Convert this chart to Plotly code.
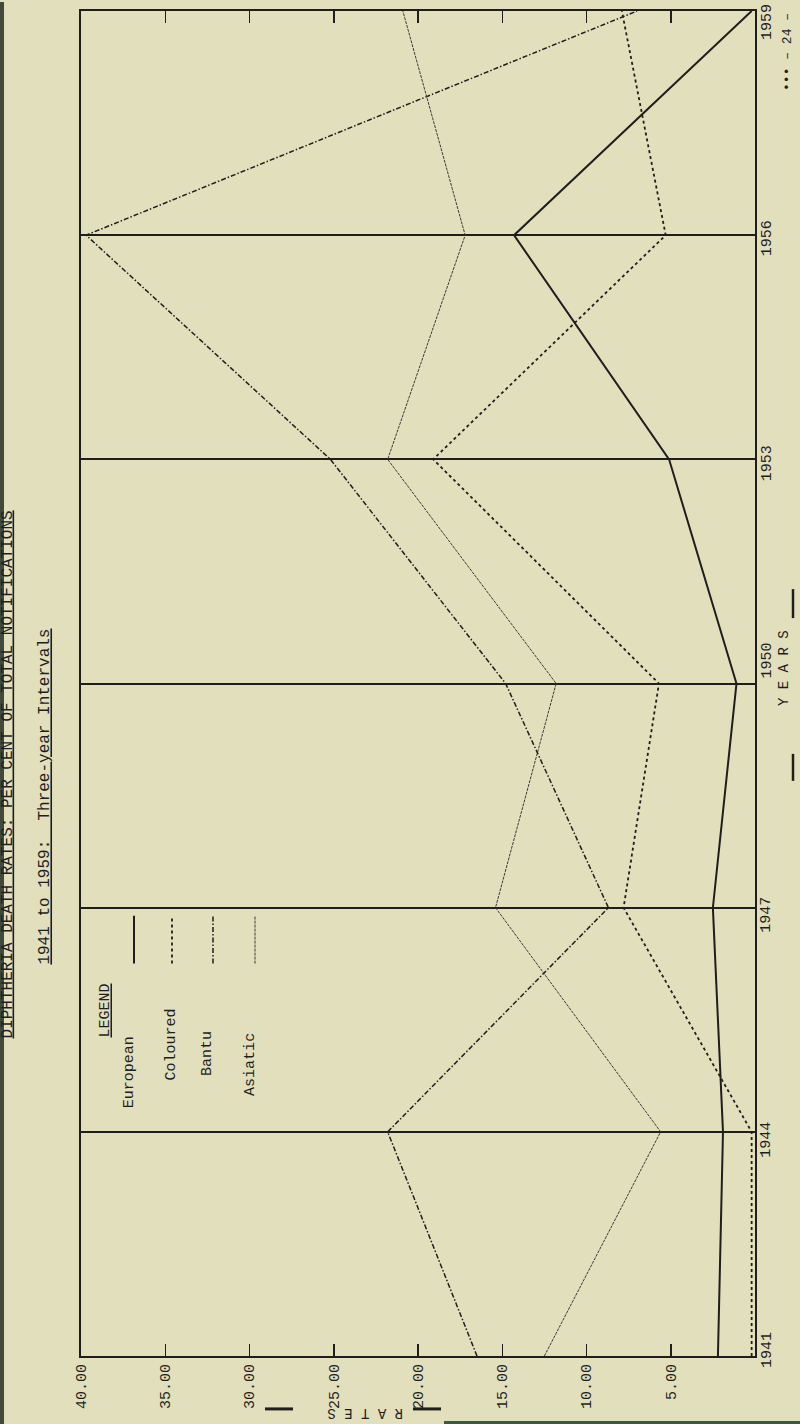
import plotly.graph_objects as go

# ---------------- data ----------------
years = [1941, 1944, 1947, 1950, 1953, 1956, 1959]
european = [2.2, 1.9, 2.5, 1.1, 5.1, 14.3, 0.2]
coloured = [0.2, 0.2, 7.8, 5.7, 19.1, 5.3, 7.9]
bantu = [16.5, 21.8, 8.7, 14.8, 25.2, 39.7, 7.0]
asiatic = [12.5, 5.6, 15.4, 11.8, 21.8, 17.2, 20.9]

rate_ticks = [40, 35, 30, 25, 20, 15, 10, 5]
rate_labels = ["40.00", "35.00", "30.00", "25.00", "20.00", "15.00", "10.00", "5.00"]
year_labels = ["1941", "1944", "1947", "1950", "1953", "1956", "1959"]
series_names = ["European", "Coloured", "Bantu", "Asiatic"]

# ---------------- style ----------------
W, H = 800, 1424
L, R, T, B = 81, 755, 9, 1356          # plot area in pixels
PAPER = "#e2dfbd"
INK = "#1e1e1e"
MONO = "Liberation Mono, Courier New, monospace"

def px(x):
    return (x - L) / (R - L)

def py(y):
    return (B - y) / (B - T)

styles = {
    "European": dict(color=INK, width=2.0, dash="solid"),
    "Coloured": dict(color=INK, width=1.8, dash="dot"),
    "Bantu": dict(color=INK, width=1.5, dash="5px,2px,1.5px,2px"),
    "Asiatic": dict(color="#3a3a3a", width=1.0, dash="3px,1px"),
}
values = {"European": european, "Coloured": coloured, "Bantu": bantu, "Asiatic": asiatic}

fig = go.Figure()
for name in series_names:
    fig.add_trace(go.Scatter(x=values[name], y=years, mode="lines", name=name,
                             line=styles[name], showlegend=False, hoverinfo="skip"))

annotations = []
shapes = []

# year labels (rotated) on the right
year_shift = {1941: 6, 1944: -8, 1947: -7, 1950: 23, 1953: -4, 1956: -3, 1959: -11}
for yr, lab in zip(years, year_labels):
    annotations.append(dict(x=px(767), xref="paper", y=yr, yref="y", text=lab,
                            textangle=-90, showarrow=False, xanchor="center", yanchor="middle",
                            yshift=year_shift[yr], font=dict(family=MONO, size=15, color=INK)))

# titles on the left
annotations.append(dict(x=px(8), y=py(1040), xref="paper", yref="paper",
                        text="<u>DIPHTHERIA DEATH RATES: PER CENT OF TOTAL NOTIFICATIONS</u>",
                        textangle=-90, showarrow=False, xanchor="center", yanchor="bottom",
                        font=dict(family=MONO, size=16, color=INK)))
annotations.append(dict(x=px(45), y=py(966), xref="paper", yref="paper",
                        text="<u>1941 to 1959:  Three-year Intervals</u>",
                        textangle=-90, showarrow=False, xanchor="center", yanchor="bottom",
                        font=dict(family=MONO, size=16, color=INK)))

# legend block
annotations.append(dict(x=px(106), y=py(1010), xref="paper", yref="paper", text="<u>LEGEND</u>",
                        textangle=-90, showarrow=False, xanchor="center", yanchor="middle",
                        font=dict(family=MONO, size=15, color=INK)))
leg_pos = {"European": (129, 1110, 134), "Coloured": (171, 1082, 172),
           "Bantu": (208, 1078, 213), "Asiatic": (251, 1098, 255)}
for name in series_names:
    tx, ty, lx = leg_pos[name]
    annotations.append(dict(x=px(tx), y=py(ty), xref="paper", yref="paper", text=name,
                            textangle=-90, showarrow=False, xanchor="center", yanchor="bottom",
                            font=dict(family=MONO, size=15, color=INK)))
    shapes.append(dict(type="line", xref="paper", yref="paper",
                       x0=px(lx), x1=px(lx), y0=py(963), y1=py(915), line=styles[name]))

# YEARS axis title (right) with dashes
annotations.append(dict(x=px(784), y=py(667), xref="paper", yref="paper", text="Y E A R S",
                        textangle=-90, showarrow=False, xanchor="center", yanchor="middle",
                        font=dict(family=MONO, size=14, color=INK)))
for y0, y1 in [(588, 617), (753, 780)]:
    shapes.append(dict(type="line", xref="paper", yref="paper", x0=px(793), x1=px(793),
                       y0=py(y0), y1=py(y1), line=dict(color=INK, width=2.5)))

# RATES axis title (upside down, bottom edge)
annotations.append(dict(x=px(365), y=py(1423), xref="paper", yref="paper", text="R A T E S",
                        textangle=180, showarrow=False, xanchor="center", yanchor="bottom",
                        font=dict(family=MONO, size=14, color=INK)))
for x0, x1 in [(265, 293), (413, 441)]:
    shapes.append(dict(type="line", xref="paper", yref="paper", x0=px(x0), x1=px(x1),
                       y0=py(1409), y1=py(1409), line=dict(color=INK, width=3)))

# page number top right
annotations.append(dict(x=px(788), y=py(50), xref="paper", yref="paper", text="••• – 24 –",
                        textangle=-90, showarrow=False, xanchor="center", yanchor="middle",
                        font=dict(family=MONO, size=13, color=INK)))

# scan edges
shapes.append(dict(type="rect", xref="paper", yref="paper", x0=px(0), x1=px(4), y0=py(0), y1=py(H),
                   fillcolor="#3f4a3c", line=dict(width=0), layer="above"))
shapes.append(dict(type="rect", xref="paper", yref="paper", x0=px(444), x1=px(800), y0=py(1421), y1=py(H),
                   fillcolor="#3c5a42", line=dict(width=0), layer="above"))

fig.update_layout(
    width=W, height=H, autosize=False,
    margin=dict(l=L, r=W - R, t=T, b=H - B, pad=0),
    paper_bgcolor=PAPER, plot_bgcolor=PAPER,
    showlegend=False, hovermode=False,
    annotations=annotations, shapes=shapes,
    xaxis=dict(range=[40, 0], tickmode="array", tickvals=rate_ticks, ticktext=rate_labels,
               tickangle=-90, ticks="inside", ticklen=12, tickwidth=1.5, tickcolor=INK,
               showline=True, linecolor=INK, linewidth=2, mirror="ticks",
               showgrid=False, zeroline=False,
               tickfont=dict(family=MONO, size=15, color=INK)),
    yaxis=dict(range=[1941, 1959], tickmode="array", tickvals=years, showticklabels=False,
               ticks="", showgrid=True, gridcolor=INK, gridwidth=2,
               showline=True, linecolor=INK, linewidth=2, mirror=True, zeroline=False),
)

fig.write_html("out.html", config={"displayModeBar": False, "staticPlot": True},
               post_script="document.body.style.margin='0';document.body.style.background='%s';" % PAPER)
